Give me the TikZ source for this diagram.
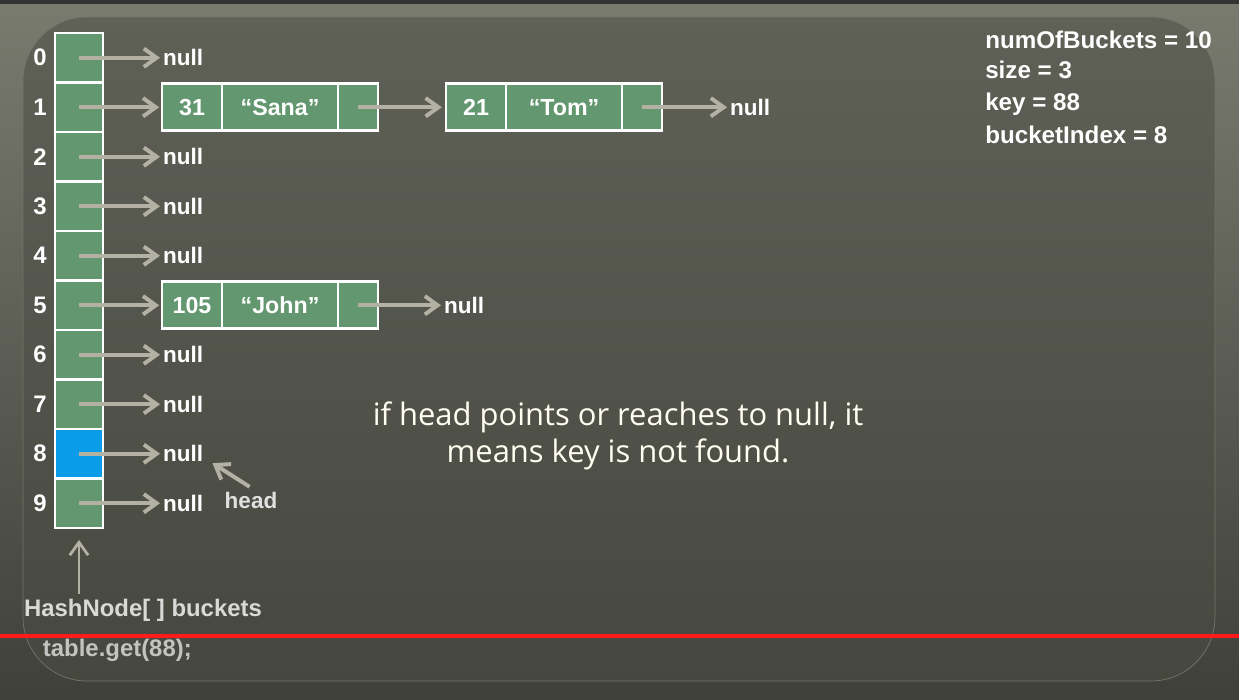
\documentclass[tikz,border=0pt]{standalone}
\usepackage{fontspec}
\setmainfont{Liberation Sans}
\newfontfamily\notefont{Open Sans}
\usetikzlibrary{arrows.meta,positioning}

\definecolor{cellgreen}{HTML}{62976F}
\definecolor{hitblue}{HTML}{0A9CE8}
\definecolor{arrowgray}{HTML}{B3B0A4}
\definecolor{labelgray}{HTML}{D9D9D5}
\definecolor{paneltop}{HTML}{5F6056}
\definecolor{panelbot}{HTML}{46473F}
\definecolor{paneledge}{HTML}{74766A}
\definecolor{outertop}{HTML}{797B6F}
\definecolor{outerbot}{HTML}{3F403A}
\definecolor{markred}{HTML}{FF1A1A}

\begin{document}
\begin{tikzpicture}[x=0.025cm,y=-0.025cm,
  cell/.style={draw=white, line width=2pt, minimum width=1.2cm, minimum height=1.2375cm, outer sep=0pt, inner sep=0pt},
  idxtxt/.style={text=white, font=\bfseries\fontsize{17}{20}\selectfont},
  nulltxt/.style={anchor=west, text=white, inner sep=2pt, font=\bfseries\fontsize{16}{19}\selectfont},
  field/.style={draw=white, line width=2pt, fill=cellgreen, minimum height=1.175cm, outer sep=0pt, inner sep=0pt, text=white, font=\bfseries\fontsize{16.5}{19}\selectfont},
  keybox/.style={field, minimum width=1.5cm},
  valbox/.style={field, minimum width=2.9cm},
  ptrbox/.style={field, minimum width=1cm},
  arr/.style={draw=arrowgray, line width=2.8pt, -{Straight Barb[length=3.2mm,width=4.6mm]}},
  lbl/.style={text=labelgray, font=\bfseries\fontsize{17}{20}\selectfont},
  info/.style={anchor=base west, text=white, inner sep=0pt, font=\bfseries\fontsize{17.2}{20}\selectfont},
  note/.style={align=center, text=white!94!yellow, font=\notefont\fontsize{22}{26.3}\selectfont},
]
\useasboundingbox (0,0) rectangle (1239,699);

% slide background
\shade[top color=outertop, bottom color=outerbot] (0,0) rectangle (1239,699);
\fill[black!80] (0,0) rectangle (1239,4);
\shade[top color=paneltop, bottom color=panelbot, rounded corners=1.6cm, draw=paneledge, line width=0.5pt]
  (23,17) rectangle (1215,681);

% buckets
\foreach \i in {0,...,9}{
  \ifnum\i=8 \def\cellfill{hitblue}\else\def\cellfill{cellgreen}\fi
  \node[cell, fill=\cellfill] (b\i) at (79,{57.75+49.5*\i}) {};
  \node[idxtxt] (i\i) at (40,{57.75+49.5*\i}) {\i};
}

% empty buckets
\foreach \i in {0,2,3,4,6,7,8,9}{
  \node[nulltxt] (n\i) at (160,{57.75+49.5*\i}) {null};
  \draw[arr] (b\i.center) -- (n\i.west);
}

% chain of bucket 1
\node[keybox, anchor=west] (k1) at (162,107.25) {31};
\node[valbox, right=0pt of k1] (v1) {“Sana”};
\node[ptrbox, right=0pt of v1] (p1) {};
\node[keybox, anchor=west] (k2) at (446,107.25) {21};
\node[valbox, right=0pt of k2] (v2) {“Tom”};
\node[ptrbox, right=0pt of v2] (p2) {};
\node[nulltxt] (e2) at (727,107.25) {null};
\draw[arr, shorten >=2pt] (b1.center) -- (k1.west);
\draw[arr, shorten >=3pt] (p1.center) -- (k2.west);
\draw[arr] (p2.center) -- (e2.west);

% chain of bucket 5
\node[keybox, anchor=west] (k5) at (162,305.25) {105};
\node[valbox, right=0pt of k5] (v5) {“John”};
\node[ptrbox, right=0pt of v5] (p5) {};
\node[nulltxt] (e5) at (441,305.25) {null};
\draw[arr, shorten >=2pt] (b5.center) -- (k5.west);
\draw[arr] (p5.center) -- (e5.west);

% head pointer
\node[lbl, text=white!88!black, font=\bfseries\fontsize{16}{19}\selectfont] (head) at (251,500) {head};
\draw[arr, shorten >=3pt] ([xshift=-1pt]head.north) -- ([xshift=2pt,yshift=3pt]n8.south east);

% array label
\node[lbl] (arrlbl) at (143,610) {HashNode[ ] buckets};
\draw[arr, line width=2pt, shorten >=8.5pt] (b9.south |- arrlbl.north) -- (b9.south);

% call
\node[lbl, anchor=west, text=labelgray!90!black] (call) at (38,650) {table.get(88);};

% state
\node[info] (s1) at (985,48.5) {numOfBuckets = 10};
\node[info] (s2) at (985,78.5) {size = 3};
\node[info] (s3) at (985,110) {key = 88};
\node[info] (s4) at (985,143) {bucketIndex = 8};

% message
\node[note] (msg) at (618,436) {if head points or reaches to null, it\\means key is not found.};

% marker line
\draw[markred, line width=2.4pt] (0,636) -- (1239,636);

\end{tikzpicture}
\end{document}
